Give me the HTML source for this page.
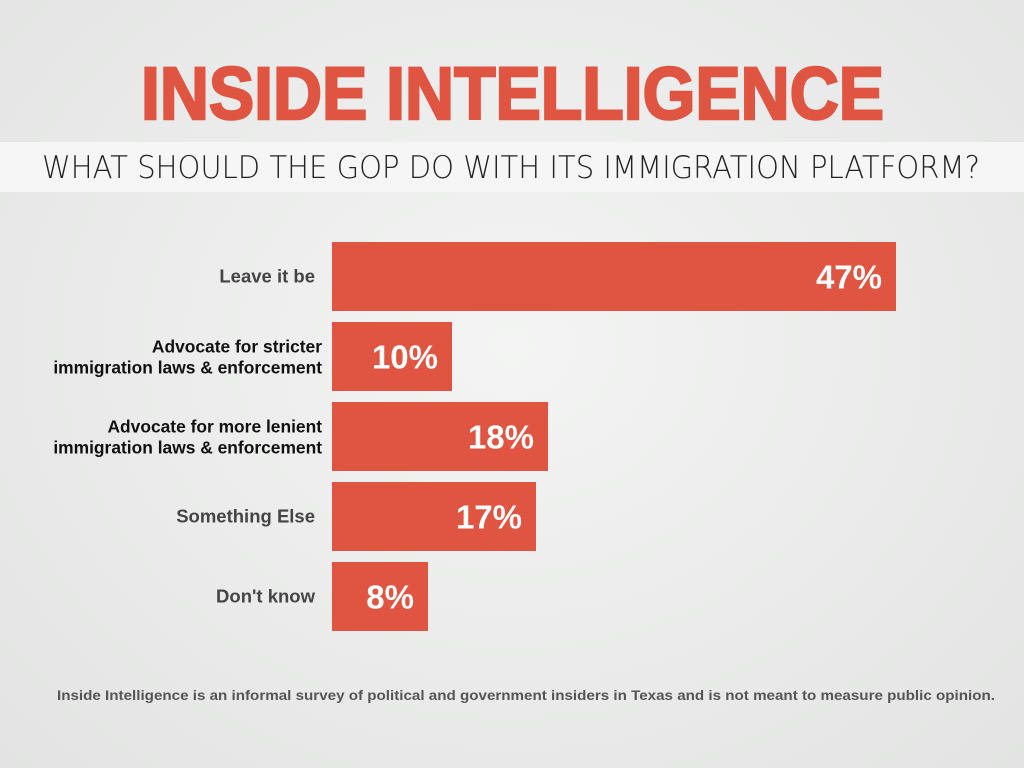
<!DOCTYPE html>
<html><head><meta charset="utf-8"><style>
html,body{margin:0;padding:0}
body{width:1024px;height:768px;overflow:hidden;background:radial-gradient(ellipse at 50% 45%,#f3f4f3 0%,#e9eae9 60%,#e2e3e2 100%);font-family:"Liberation Sans",sans-serif}
</style></head><body>
<svg id="chart" width="1024" height="768" xmlns="http://www.w3.org/2000/svg" style="position:absolute;left:0;top:0">
<text x="141" y="119" textLength="743" lengthAdjust="spacingAndGlyphs" font-family="Liberation Sans" font-weight="bold" font-size="74" fill="#e05542" stroke="#e05542" stroke-width="2.5">INSIDE INTELLIGENCE</text>
<rect x="0" y="142" width="1024" height="50" fill="#f5f6f5"/>
<text x="42" y="178" textLength="938" lengthAdjust="spacingAndGlyphs" font-family="DejaVu Sans" font-weight="200" font-size="31" fill="#222">WHAT SHOULD THE GOP DO WITH ITS IMMIGRATION PLATFORM?</text>
<g id="bars"></g>
<text x="57" y="700" textLength="938" lengthAdjust="spacingAndGlyphs" font-family="Liberation Sans" font-weight="bold" font-size="14" fill="#555">Inside Intelligence is an informal survey of political and government insiders in Texas and is not meant to measure public opinion.</text>
</svg>
<script>
const categories = [["Leave it be"],["Advocate for stricter","immigration laws & enforcement"],["Advocate for more lenient","immigration laws & enforcement"],["Something Else"],["Don't know"]];
const values = [47,10,18,17,8];
const valueLabels = ["47%","10%","18%","17%","8%"];
const ns="http://www.w3.org/2000/svg";
const g=document.getElementById('bars');
const x0=332, pxPer=12, y0=242, step=80, bh=69;
function xScale(v){return v*pxPer;}
function yScale(i){return y0+i*step;}
values.forEach((v,i)=>{
  const y=yScale(i), w=xScale(v);
  const r=document.createElementNS(ns,'rect');
  
  
  r.setAttribute('x',x0);r.setAttribute('y',y);r.setAttribute('width',w);r.setAttribute('height',bh);r.setAttribute('fill','#e05542');
  g.appendChild(r);
  const t=document.createElementNS(ns,'text');
  
  
  t.setAttribute('x',x0+w-14);t.setAttribute('y',y+bh/2+12);t.setAttribute('text-anchor','end');
  t.setAttribute('font-family','Liberation Sans');t.setAttribute('font-weight','bold');t.setAttribute('font-size','33');t.setAttribute('fill','#fff');
  t.textContent=valueLabels[i];g.appendChild(t);
  const lines=categories[i];
  lines.forEach((ln,j)=>{
    const c=document.createElementNS(ns,'text');
    
    
    const single=lines.length===1;
    c.setAttribute('x',single?315:322);
    c.setAttribute('y',single?y+bh/2+6:y+bh/2-4+j*21);
    c.setAttribute('text-anchor','end');
    c.setAttribute('font-family','Liberation Sans');c.setAttribute('font-weight','bold');c.setAttribute('font-size',single?'18.5':'17.4');c.setAttribute('fill',single?'#444':'#111');
    c.textContent=ln;g.appendChild(c);
  });
});
</script>
</body></html>
